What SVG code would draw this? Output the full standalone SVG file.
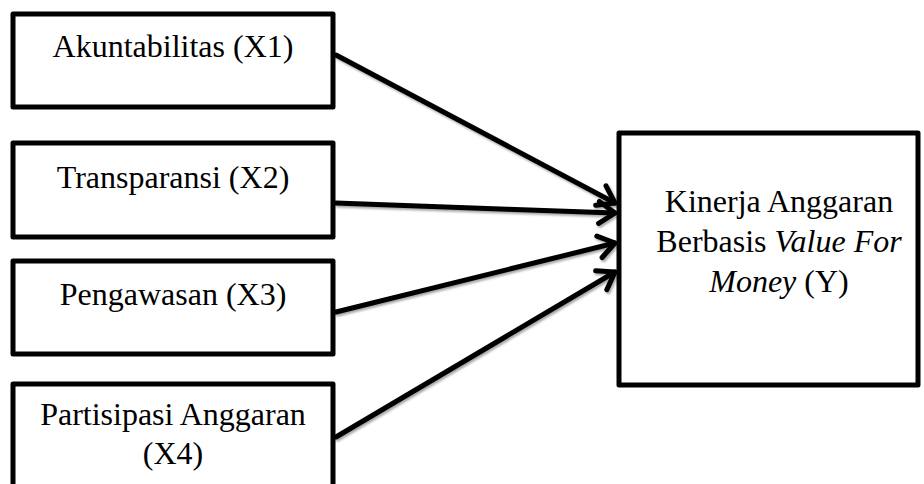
<svg xmlns="http://www.w3.org/2000/svg" width="924" height="484" viewBox="0 0 924 484">
  <defs>
    <filter id="sh" x="-10%" y="-10%" width="120%" height="120%">
      <feDropShadow dx="1.5" dy="2" stdDeviation="1.2" flood-color="#000" flood-opacity="0.35"/>
    </filter>
    <marker id="arr" markerUnits="userSpaceOnUse" markerWidth="34" markerHeight="34" viewBox="-22 -17 34 34" refX="0" refY="0" orient="auto">
      <path d="M-16,-11 L0,0 L-16,11" fill="none" stroke="#000" stroke-width="5" stroke-linecap="round" stroke-linejoin="round"/>
    </marker>
    <style>
      .box { fill: #fff; stroke: #000; stroke-width: 5; stroke-linejoin: round; }
      .lbl { font-family: "Liberation Serif", "Times New Roman", serif; font-size: 32px; fill: #000; text-anchor: middle; }
      .it { font-style: italic; }
      .con { stroke: #000; stroke-width: 5; fill: none; stroke-linecap: round; marker-end: url(#arr); }
    </style>
  </defs>
  <rect width="924" height="484" fill="#fff"/>
  <g id="connectors" filter="url(#sh)">
    <line class="con" x1="336" y1="55" x2="615" y2="203"/>
    <line class="con" x1="336" y1="203" x2="615" y2="213"/>
    <line class="con" x1="336" y1="312" x2="615" y2="243"/>
    <line class="con" x1="336" y1="437" x2="615" y2="272"/>
  </g>
  <g id="x1">
    <rect class="box" x="13" y="14" width="320" height="93"/>
    <text class="lbl" x="173" y="57">Akuntabilitas (X1)</text>
  </g>
  <g id="x2">
    <rect class="box" x="13" y="143" width="320" height="94"/>
    <text class="lbl" x="173" y="188">Transparansi (X2)</text>
  </g>
  <g id="x3">
    <rect class="box" x="13" y="261" width="320" height="93"/>
    <text class="lbl" x="173" y="305">Pengawasan (X3)</text>
  </g>
  <g id="x4">
    <rect class="box" x="13" y="384" width="320" height="120"/>
    <text class="lbl" x="173" y="425">Partisipasi Anggaran</text>
    <text class="lbl" x="173" y="464">(X4)</text>
  </g>
  <g id="y">
    <rect class="box" x="619" y="133" width="299" height="252"/>
    <text class="lbl" x="779" y="212">Kinerja Anggaran</text>
    <text class="lbl" x="779" y="252">Berbasis <tspan class="it">Value For</tspan></text>
    <text class="lbl" x="779" y="292"><tspan class="it">Money</tspan> (Y)</text>
  </g>
</svg>
